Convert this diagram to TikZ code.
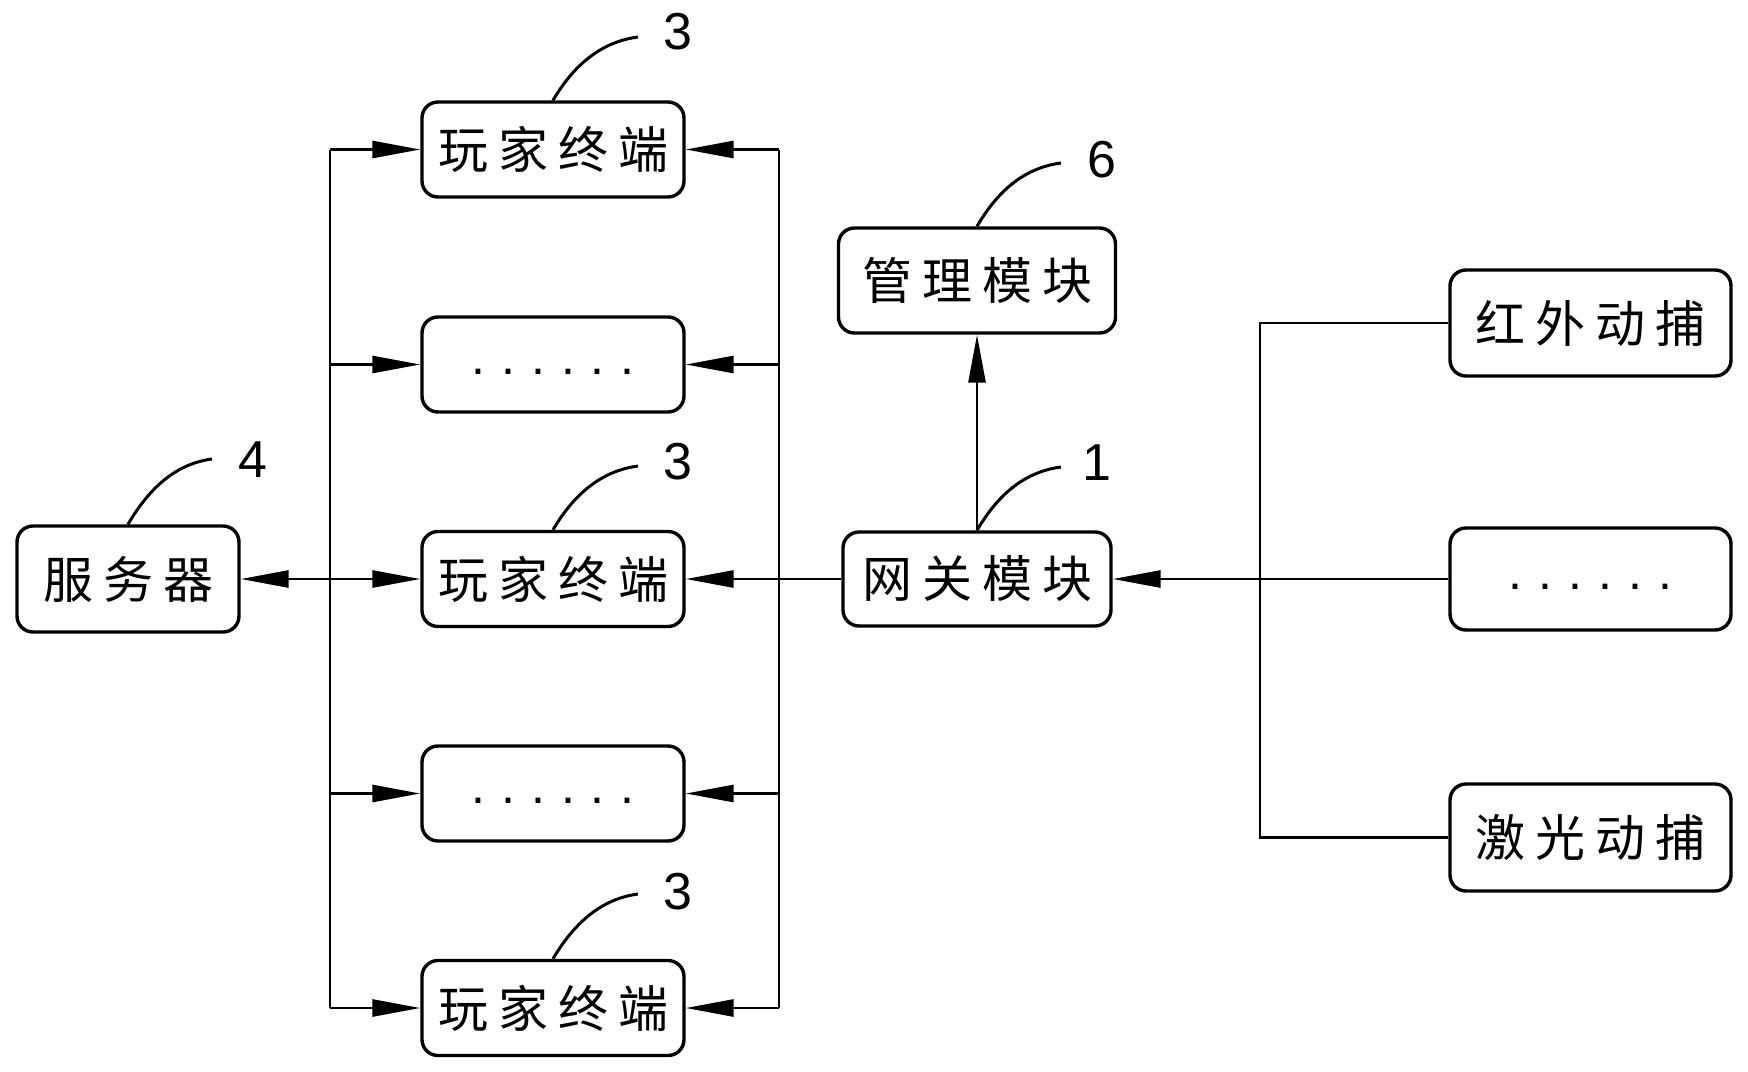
\documentclass[tikz,border=0pt]{standalone}
\usepackage{fontspec}
\setmainfont{Liberation Sans}
\newfontfamily\cjk{Noto Sans CJK SC}[LetterSpace=20]
\newfontfamily\dotfont{Liberation Sans}[LetterSpace=32]
\usetikzlibrary{arrows.meta}

\tikzset{
  box/.style={draw, line width=3.4pt, rounded corners=16pt, inner sep=0pt,
    minimum width=262pt, minimum height=95pt, font=\cjk\fontsize{50}{50}\selectfont},
  dots/.style={font=\dotfont\fontsize{50}{50}\selectfont, text height=20pt, text depth=0pt},
  link/.style={line width=2.8pt},
  tip/.style={link, -{Triangle[length=48pt,width=17pt]}},
  twotip/.style={link, {Triangle[length=48pt,width=17pt]}-{Triangle[length=48pt,width=17pt]}},
  leader/.style={line width=3pt},
  numlabel/.style={font=\fontsize{52}{52}\selectfont, inner sep=0pt},
}

\begin{document}
\begin{tikzpicture}[x=1pt,y=1pt,yscale=-1,xscale=1]
\useasboundingbox (0,0) rectangle (1748,1071);

% Boxes
\node[box, minimum width=222pt, minimum height=106pt] (srv) at (128,579) {服务器};
\node[box] (p1) at (553,149.5) {玩家终端};
\node[box, dots] (p2) at (553,364.5) {......};
\node[box] (p3) at (553,579) {玩家终端};
\node[box, dots] (p4) at (553,793.5) {......};
\node[box] (p5) at (553,1008) {玩家终端};
\node[box, minimum width=268pt, minimum height=94pt] (gw) at (977,579) {网关模块};
\node[box, minimum width=277pt, minimum height=105pt] (mg) at (977,280.5) {管理模块};
\node[box, minimum width=281pt, minimum height=106pt] (ir) at (1590.5,323) {红外动捕};
\node[box, dots, minimum width=281pt, minimum height=102pt] (cm) at (1590.5,579) {......};
\node[box, minimum width=281pt, minimum height=107pt] (ls) at (1590.5,837.5) {激光动捕};

% Bus points
\coordinate (lb1) at (330,149.5);
\coordinate (lb2) at (330,364.5);
\coordinate (lb4) at (330,793.5);
\coordinate (lb5) at (330,1008);
\coordinate (rb1) at (779,149.5);
\coordinate (rb2) at (779,364.5);
\coordinate (rb4) at (779,793.5);
\coordinate (rb5) at (779,1008);
\coordinate (cb1) at (1260,323);
\coordinate (cb3) at (1260,837.5);

% Left bus
\draw[link] (lb1) -- (lb5);
\draw[twotip] (srv.east) -- (p3.west);
\draw[tip] (lb1) -- (p1.west);
\draw[tip] (lb2) -- (p2.west);
\draw[tip] (lb4) -- (p4.west);
\draw[tip] (lb5) -- (p5.west);

% Right bus
\draw[link] (rb1) -- (rb5);
\draw[tip] (gw.west) -- (p3.east);
\draw[tip] (rb1) -- (p1.east);
\draw[tip] (rb2) -- (p2.east);
\draw[tip] (rb4) -- (p4.east);
\draw[tip] (rb5) -- (p5.east);

% Gateway links
\draw[tip] (gw.north) -- (mg.south);
\draw[link] (ir.west) -- (cb1) -- (cb3) -- (ls.west);
\draw[tip] (cm.west) -- (gw.east);

% Leader ends
\coordinate (e4) at (212,459);
\coordinate (e3a) at (638,37);
\coordinate (e3b) at (638,466);
\coordinate (e3c) at (638,894);
\coordinate (e6) at (1061,163);
\coordinate (e1) at (1061,467);

% Leaders
\draw[leader] (srv.north) .. controls +(20,-34) and +(-38,5) .. (e4);
\draw[leader] (p1.north) .. controls +(20,-34) and +(-38,5) .. (e3a);
\draw[leader] (p3.north) .. controls +(20,-34) and +(-38,5) .. (e3b);
\draw[leader] (p5.north) .. controls +(20,-34) and +(-38,5) .. (e3c);
\draw[leader] (mg.north) .. controls +(20,-34) and +(-38,5) .. (e6);
\draw[leader] (gw.north) .. controls +(20,-34) and +(-38,5) .. (e1);

% Text Node
\node[numlabel] (n4) at (253,460) {4};
\node[numlabel] (n3a) at (678,32) {3};
\node[numlabel] (n3b) at (678,462) {3};
\node[numlabel] (n3c) at (678,892) {3};
\node[numlabel] (n6) at (1102,160) {6};
\node[numlabel] (n1) at (1097,463) {1};

\end{tikzpicture}
\end{document}
